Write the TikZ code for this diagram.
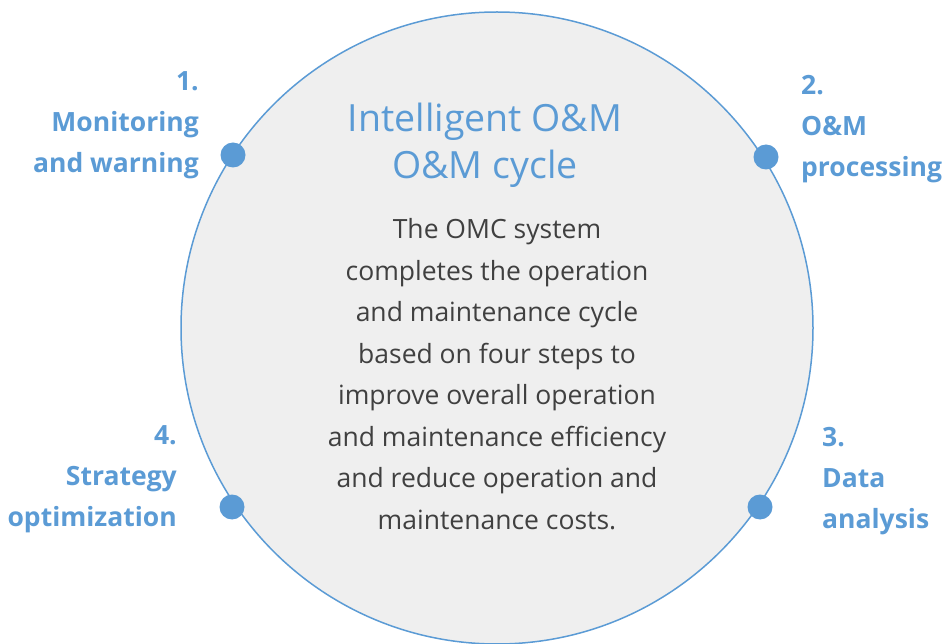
\documentclass[tikz,border=0pt]{standalone}
\usepackage{fontspec}
\setmainfont{Open Sans}
\usepackage{tikz}
\usetikzlibrary{positioning,calc}

\definecolor{omblue}{HTML}{5B9BD5}
\definecolor{omgray}{HTML}{404040}
\definecolor{omfill}{HTML}{EFEFEF}

\tikzset{
  stepdot/.style={circle, fill=omblue, inner sep=0, minimum size=25pt},
  steplabel/.style={text=omblue, inner sep=0, font=\fontsize{26.5}{41}\selectfont\bfseries},
}

\begin{document}
\begin{tikzpicture}[x=1pt, y=-1pt]

\useasboundingbox (0, 0) rectangle (946, 644);

\path (497, 328) node[draw=omblue, fill=omfill, line width=1.5pt, shape=circle, minimum size=632pt, inner sep=0] (cycle) {};

\path (485, 145) node[text=omblue, align=center, inner sep=0, font=\fontsize{37.5}{47}\selectfont] (title) {Intelligent O\&M\\O\&M cycle};

\path (497, 374) node[text=omgray, align=center, inner sep=0, font=\fontsize{26.5}{41.5}\selectfont] (body) {The OMC system\\completes the operation\\and maintenance cycle\\based on four steps to\\improve overall operation\\and maintenance efficiency\\and reduce operation and\\maintenance costs.};

\path (233, 155) node[stepdot] (dot1) {};
\path (766, 157) node[stepdot] (dot2) {};
\path (760, 507) node[stepdot] (dot3) {};
\path (232, 507) node[stepdot] (dot4) {};

\path (199, 125.5) node[steplabel, anchor=east, align=right] (step1) {1.\\Monitoring\\and warning};
\path (801, 129.5) node[steplabel, anchor=west, align=left] (step2) {2.\\O\&M\\processing};
\path (822, 481) node[steplabel, anchor=west, align=left] (step3) {3.\\Data\\analysis};
\path (177, 479.5) node[steplabel, anchor=east, align=right] (step4) {4.\\Strategy\\optimization};
\end{tikzpicture}
\end{document}
